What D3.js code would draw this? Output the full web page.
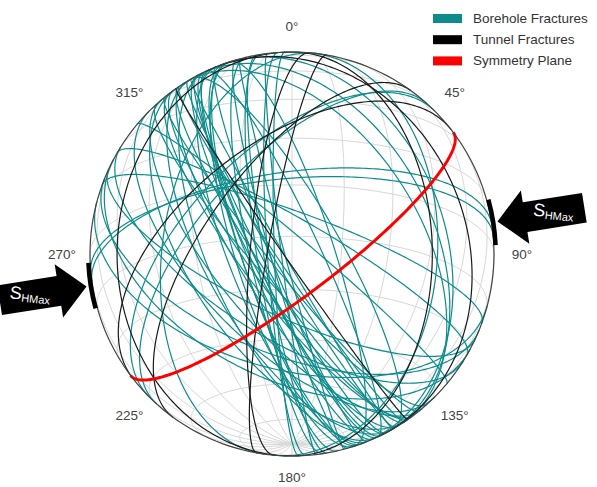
<!DOCTYPE html>
<html><head><meta charset="utf-8">
<script src="https://cdn.jsdelivr.net/npm/d3@7/dist/d3.min.js"></script>
<style>body{margin:0;background:#fff}svg{display:block}text{font-family:"Liberation Sans",Arial,sans-serif}</style>
</head><body><svg id="c" width="597" height="487"></svg>
<script>
// strike / dip (right-hand rule: dip direction = strike + 90)
const boreholeStrike = [138,141,144,146,148,150,152,154,156,158,160,162,164,167,170,173,176,143,149,155,161,
  165,178,171,158,152,146,
  150,145,140,135,155, 335,342,330, 5,327,332,340, 265,262,225,222,290,
  105,112,118,122,115, 188, 300,310];
const boreholeDip = [80,84,78,86,75,88,82,80,78,72,76,74,84,78,82,87,83,76,85,80,76,
  88,85,80,84,79,81,
  65,60,68,62,66, 82,78,76, 44,50,45,40, 68,66,58,62,78,
  55,60,52,65,72, 50, 80,85];
const tunnelStrike = [145,335,180,0,216,232,185,190];
const tunnelDip = [88,30,30,46,64,56,78,83];
const symmetryStrike = [53];
const symmetryDip = [78];
const shmaxAzimuth = [81, 261];
const shmaxSpan = 13;
const directionValues = [0,45,90,135,180,225,270,315];
const legendLabels = ["Borehole Fractures","Tunnel Fractures","Symmetry Plane"];
const legendColors = ["#0e8c8c","#000000","#ff0000"];

const cx=292, cy=254, R=202;
const svg=d3.select("#c");
const rad=Math.PI/180;
function screen(az,r){return [cx+r*Math.sin(az*rad), cy-r*Math.cos(az*rad)];}

const proj=d3.geoOrthographic().scale(R).translate([cx,cy]).rotate([0,-90,0]).clipAngle(90).precision(0.2);
const path=d3.geoPath(proj);
const gridProj=d3.geoOrthographic().scale(R).translate([cx,cy]).rotate([0,20,0]).clipAngle(90).precision(0.2);

svg.append("path").datum(d3.geoGraticule().step([15,15])())
  .attr("d",d3.geoPath(gridProj)).attr("fill","none").attr("stroke","#d8d8d8").attr("stroke-width",1);

function plane(strike,dip){
  const d=Math.min(dip,89.5);
  const poleTrend=strike+90+180;
  const c=proj.invert(screen(poleTrend, R*Math.sin(d*rad)));
  const ring=d3.geoCircle().center(c).radius(90).precision(1)().coordinates[0];
  return {type:"LineString",coordinates:ring};
}

const g=svg.append("g");
g.selectAll("path.bh").data(d3.zip(boreholeStrike,boreholeDip)).join("path")
  .attr("d",d=>path(plane(d[0],d[1]))).attr("fill","none").attr("stroke","#0e8c8c").attr("stroke-width",1.2);
g.selectAll("path.tn").data(d3.zip(tunnelStrike,tunnelDip)).join("path")
  .attr("d",d=>path(plane(d[0],d[1]))).attr("fill","none").attr("stroke","#1a1a1a").attr("stroke-width",1.2);
g.selectAll("path.sy").data(d3.zip(symmetryStrike,symmetryDip)).join("path")
  .attr("d",d=>path(plane(d[0],d[1]))).attr("fill","none").attr("stroke","#ff0000").attr("stroke-width",3);

svg.append("path").datum({type:"Sphere"}).attr("d",path).attr("fill","none").attr("stroke","#444").attr("stroke-width",1.2);

// SHmax bars on rim
const arc=d3.arc().innerRadius(R-0.5).outerRadius(R+4);
shmaxAzimuth.forEach(a=>{
  svg.append("path").attr("transform",`translate(${cx},${cy})`)
    .attr("d",arc({startAngle:(a-shmaxSpan/2)*rad,endAngle:(a+shmaxSpan/2)*rad})).attr("fill","#000");
});
// arrows
shmaxAzimuth.forEach(a=>{
  const tip=screen(a,R+6);
  const right=a<180;
  const s=right?1:-1;
  const rot=a-90+(right?0:180);
  const pts=[[0,0],[28,-27],[28,-15],[88,-15],[88,15],[28,15],[28,27]].map(p=>[p[0]*s,p[1]]);
  const grp=svg.append("g").attr("transform",`translate(${tip[0]},${tip[1]}) rotate(${rot})`);
  grp.append("path").attr("d",d3.line()(pts)+"Z").attr("fill","#000");
  const t=grp.append("text").attr("transform",`translate(${s*57},-1) rotate(${-rot+6})`)
    .attr("text-anchor","middle").attr("dominant-baseline","central").attr("fill","#fff");
  t.append("tspan").attr("font-size",18).text("S");
  t.append("tspan").attr("font-size",11).attr("dy",4).text("HMax");
});

// direction labels
svg.selectAll("text.dir").data(directionValues).join("text")
  .attr("x",d=>screen(d,230)[0]).attr("y",d=>Math.min(screen(d,228)[1],477))
  .attr("text-anchor","middle").attr("dominant-baseline","central")
  .attr("font-size",13.5).attr("fill","#444").text(d=>d+"°");

// legend
const lg=svg.append("g");
legendLabels.forEach((l,i)=>{
  const y=18.5+i*21.2;
  lg.append("rect").attr("x",433).attr("y",y-4.5).attr("width",29).attr("height",9).attr("fill",legendColors[i]);
  lg.append("text").attr("x",473).attr("y",y).attr("dominant-baseline","central").attr("font-size",13.5).attr("fill","#333").text(l);
});
</script></body></html>
